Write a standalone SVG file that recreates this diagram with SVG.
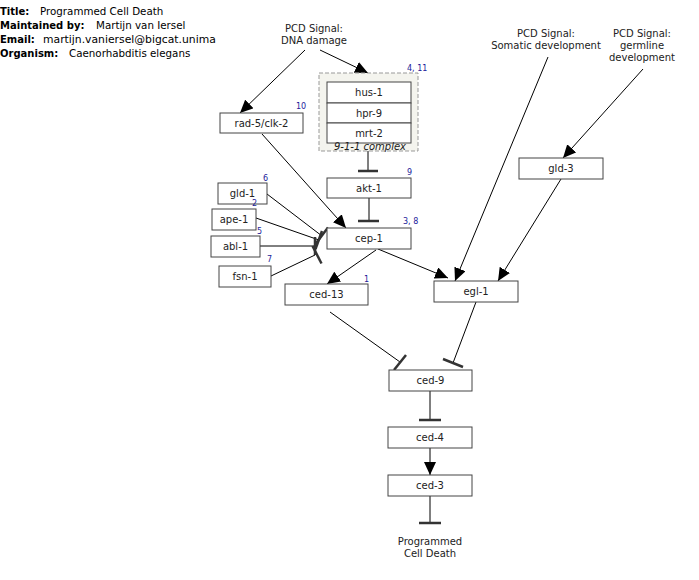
<svg xmlns="http://www.w3.org/2000/svg" width="699" height="580" viewBox="0 0 699 580">
<defs>
<marker id="arr" markerUnits="userSpaceOnUse" markerWidth="14" markerHeight="12" refX="13" refY="6" orient="auto" viewBox="0 0 14 12">
<path d="M0,0 L13,6 L0,12 Z" fill="#000"/>
</marker>
</defs>
<style>
text{font-family:"DejaVu Sans","Liberation Sans",sans-serif;}
.hd{font-size:10px;fill:#000;}
.hb{font-weight:bold;}
.hv{font-size:10.3px;}
.box{fill:#fff;stroke:#444;stroke-width:1;}
.lbl{font-size:10px;fill:#222;text-anchor:middle;}
.num{font-size:8px;fill:#22229a;}
.sig{font-size:10px;fill:#222;text-anchor:middle;}
.ln{stroke:#000;stroke-width:1;fill:none;}
.arw{stroke:#000;stroke-width:1;fill:none;marker-end:url(#arr);}
.bar{stroke:#333;stroke-width:2.5;fill:none;}
</style>
<g id="header">
<text class="hd" x="0" y="15"><tspan class="hb">Title:</tspan><tspan class="hv" x="40">Programmed Cell Death</tspan></text>
<text class="hd" x="0" y="29"><tspan class="hb">Maintained by:</tspan><tspan class="hv" x="96">Martijn van Iersel</tspan></text>
<text class="hd" x="0" y="43"><tspan class="hb">Email:</tspan><tspan x="43" style="font-size:10.8px">martijn.vaniersel@bigcat.unima</tspan></text>
<text class="hd" x="0" y="57"><tspan class="hb">Organism:</tspan><tspan class="hv" x="69">Caenorhabditis elegans</tspan></text>
</g>
<g id="connectors">
<line class="arw" x1="320" y1="50" x2="368" y2="73"/>
<line class="arw" x1="305" y1="50" x2="240" y2="113"/>
<line class="arw" x1="262" y1="134" x2="346" y2="228"/>
<line class="arw" x1="376" y1="250" x2="327" y2="284"/>
<line class="arw" x1="378" y1="249" x2="448" y2="278"/>
<line class="arw" x1="548" y1="57" x2="455" y2="281"/>
<line class="arw" x1="643" y1="69" x2="563" y2="158"/>
<line class="arw" x1="561" y1="179" x2="498" y2="281"/>
<line class="arw" x1="430" y1="448" x2="430" y2="475"/>
<line class="ln" x1="368" y1="151" x2="368" y2="171"/>
<line class="bar" x1="358" y1="171" x2="378" y2="171"/>
<line class="ln" x1="369" y1="198" x2="369" y2="221"/>
<line class="bar" x1="358" y1="221" x2="379" y2="221"/>
<line class="ln" x1="430" y1="391" x2="430" y2="420"/>
<line class="bar" x1="419" y1="420" x2="441" y2="420"/>
<line class="ln" x1="430" y1="496" x2="430" y2="523"/>
<line class="bar" x1="419" y1="523" x2="441" y2="523"/>
<line class="ln" x1="330" y1="312" x2="400" y2="362"/>
<line class="bar" x1="394" y1="370" x2="406" y2="355"/>
<line class="ln" x1="476" y1="302" x2="453" y2="363"/>
<line class="bar" x1="443" y1="359" x2="463" y2="367"/>
<line class="ln" x1="267" y1="194" x2="322" y2="236"/>
<line class="bar" x1="315.5" y1="244" x2="328" y2="227.5"/>
<line class="ln" x1="256" y1="218" x2="319" y2="240"/>
<line class="bar" x1="315.5" y1="249" x2="322" y2="231"/>
<line class="ln" x1="260" y1="246" x2="315" y2="246"/>
<line class="bar" x1="315" y1="237" x2="315" y2="255"/>
<line class="ln" x1="271" y1="276" x2="315" y2="255"/>
<line class="bar" x1="312.5" y1="246" x2="321.5" y2="263.5"/>
</g>
<g id="signal-dna">
<text class="sig" x="314" y="32">PCD Signal:</text>
<text class="sig" x="314" y="44">DNA damage</text>
</g>
<g id="signal-somatic">
<text class="sig" x="546" y="37">PCD Signal:</text>
<text class="sig" x="546" y="49">Somatic development</text>
</g>
<g id="signal-germline">
<text class="sig" x="642" y="37">PCD Signal:</text>
<text class="sig" x="642" y="49">germline</text>
<text class="sig" x="642" y="61">development</text>
</g>
<g id="complex-911">
<rect x="319" y="73" width="99" height="78" fill="#f4f4ee" stroke="#999" stroke-dasharray="4,2"/>
<text class="num" x="407" y="71">4, 11</text>
</g>
<g id="hus-1"><rect class="box" x="327" y="82" width="84" height="21"/><text class="lbl" x="369" y="96">hus-1</text></g>
<g id="hpr-9"><rect class="box" x="327" y="103" width="84" height="20"/><text class="lbl" x="369" y="116.5">hpr-9</text></g>
<g id="mrt-2"><rect class="box" x="327" y="123" width="84" height="20"/><text class="lbl" x="369" y="136.5">mrt-2</text></g>
<text x="370" y="150" style="font-size:10px;font-style:italic;fill:#222;text-anchor:middle">9-1-1 complex</text>
<g id="rad-5"><rect class="box" x="220" y="113" width="83" height="20"/><text class="lbl" x="261.5" y="126.5">rad-5/clk-2</text><text class="num" x="296" y="109">10</text></g>
<g id="akt-1"><rect class="box" x="327" y="178" width="84" height="20"/><text class="lbl" x="369" y="191.5">akt-1</text><text class="num" x="407" y="175">9</text></g>
<g id="cep-1"><rect class="box" x="327" y="228" width="84" height="21"/><text class="lbl" x="369" y="242">cep-1</text><text class="num" x="403" y="224">3, 8</text></g>
<g id="gld-1"><rect class="box" x="218" y="183" width="49" height="21"/><text class="lbl" x="242.5" y="197">gld-1</text><text class="num" x="263" y="181">6</text></g>
<g id="ape-1"><rect class="box" x="212" y="209" width="44" height="21"/><text class="lbl" x="234" y="223">ape-1</text><text class="num" x="252" y="206">2</text></g>
<g id="abl-1"><rect class="box" x="211" y="236" width="49" height="21"/><text class="lbl" x="235.5" y="250">abl-1</text><text class="num" x="257" y="234">5</text></g>
<g id="fsn-1"><rect class="box" x="219" y="266" width="52" height="21"/><text class="lbl" x="245" y="280">fsn-1</text><text class="num" x="267" y="262">7</text></g>
<g id="ced-13"><rect class="box" x="285" y="284" width="83" height="21"/><text class="lbl" x="326.5" y="298">ced-13</text><text class="num" x="364" y="282">1</text></g>
<g id="egl-1"><rect class="box" x="434" y="281" width="84" height="21"/><text class="lbl" x="476" y="295">egl-1</text></g>
<g id="gld-3"><rect class="box" x="519" y="158" width="84" height="21"/><text class="lbl" x="561" y="172">gld-3</text></g>
<g id="ced-9"><rect class="box" x="389" y="370" width="83" height="21"/><text class="lbl" x="430.5" y="384">ced-9</text></g>
<g id="ced-4"><rect class="box" x="388" y="427" width="84" height="21"/><text class="lbl" x="430" y="441">ced-4</text></g>
<g id="ced-3"><rect class="box" x="388" y="475" width="84" height="21"/><text class="lbl" x="430" y="489">ced-3</text></g>
<g id="pcd">
<text class="sig" x="430" y="545">Programmed</text>
<text class="sig" x="430" y="557">Cell Death</text>
</g>
</svg>
